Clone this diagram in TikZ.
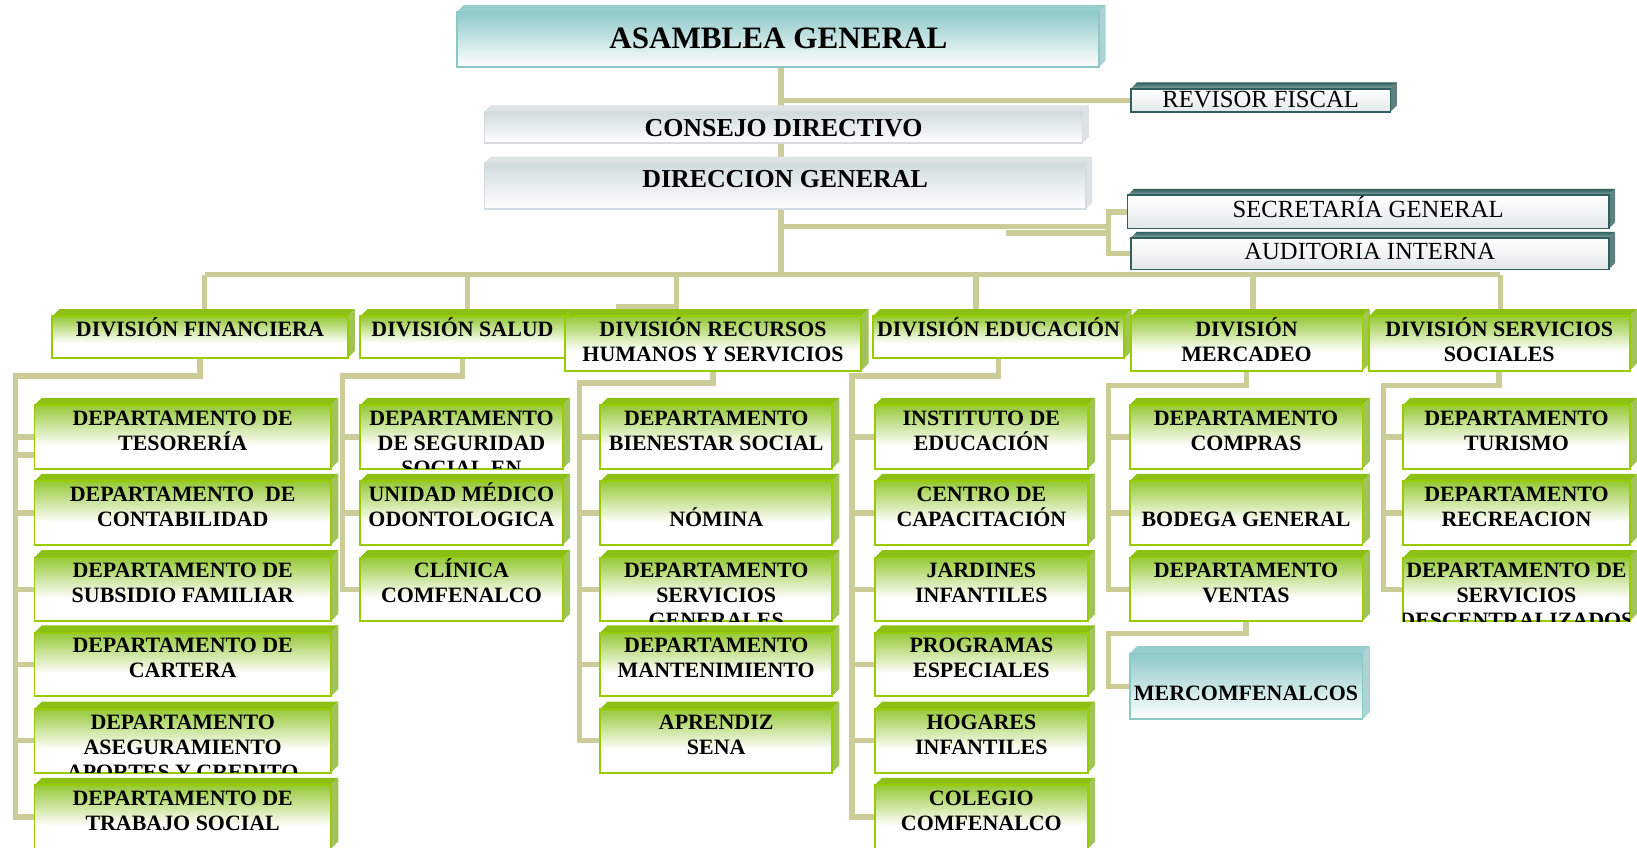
\documentclass[tikz,border=0pt]{standalone}
\usepackage{fontspec}
\setmainfont{Liberation Serif}
\usetikzlibrary{fit}

\pgfdeclarelayer{paper}
\pgfdeclarelayer{links}
\pgfsetlayers{paper,links,main}

% palette
\definecolor{linkc}{RGB}{204,204,153}
\definecolor{grnedge}{RGB}{153,204,0}
\definecolor{grntop}{RGB}{140,192,20}
\definecolor{grnside}{RGB}{160,196,90}
\definecolor{grnfade}{RGB}{150,201,55}
\definecolor{tealfade}{RGB}{143,201,201}
\definecolor{tealedge}{RGB}{140,200,200}
\definecolor{tealtop}{RGB}{150,205,205}
\definecolor{tealside}{RGB}{172,212,212}
\definecolor{grayfade}{RGB}{208,219,223}
\definecolor{grayedge}{RGB}{212,220,224}
\definecolor{grayside}{RGB}{222,228,230}
\definecolor{darkedge}{RGB}{47,95,95}
\definecolor{darktop}{RGB}{45,95,95}
\definecolor{darkside}{RGB}{95,128,128}
\definecolor{darklow}{RGB}{226,232,232}

% green front: strong green at the top, white from the middle down
\pgfdeclareverticalshading{grnshade}{100bp}{color(0bp)=(white); color(25bp)=(white); color(43bp)=(white); color(75bp)=(grnfade); color(100bp)=(grnfade)}

% fonts
\newcommand\fdept{\fontsize{10.5pt}{12pt}\selectfont\bfseries}
\newcommand\fbig{\fontsize{14.9pt}{17pt}\selectfont\bfseries}
\newcommand\fmid{\fontsize{12.4pt}{14pt}\selectfont\bfseries}
\newcommand\fplain{\fontsize{11.8pt}{14pt}\selectfont}

\def\dep{7}
\def\toff{9.5pt}

% 3D block: #1 name, #2 left, #3 top, #4 right, #5 bottom (front face),
% #6 palette, #7 font, #8 text
\newcommand{\orgbox}[8]{%
  \node[fit={(#2,#3) (#4,#5)}, inner sep=0pt, outer sep=0pt] (#1) {};
  \path[#6-top] (#1.north west) -- ++(\dep,-\dep)
     -- ([shift={(\dep,-\dep)}]#1.north east) -- (#1.north east) -- cycle;
  \path[#6-side] (#1.north east) -- ([shift={(\dep,-\dep)}]#1.north east)
     -- ([shift={(\dep,-\dep)}]#1.south east) -- (#1.south east) -- cycle;
  \path[#6-front] (#1.north west) rectangle (#1.south east);
  \draw[#6-edge] (#1.north west) rectangle (#1.south east);
  \begin{scope}
    \clip (#1.north west) rectangle (#1.south east);
    \node[anchor=north, inner sep=0pt, align=center, font=#7] (#1-txt)
      at (#1.north) {\rule{0pt}{\toff}#8};
  \end{scope}}

\tikzset{
  link/.style={draw=linkc, line width=2.6pt, line join=miter},
  grn-top/.style={fill=grntop},
  grn-side/.style={fill=grnside},
  grn-front/.style={shading=grnshade},
  grn-edge/.style={draw=grnedge, line width=0.9pt},
  tea-top/.style={fill=tealtop},
  tea-side/.style={fill=tealside},
  tea-front/.style={top color=tealfade, bottom color=white},
  tea-edge/.style={draw=tealedge, line width=0.9pt},
  gry-top/.style={fill=grayside},
  gry-side/.style={fill=grayside},
  gry-front/.style={top color=grayfade, bottom color=white},
  gry-edge/.style={draw=grayedge, line width=0.8pt},
  drk-top/.style={top color=darktop, bottom color=darktop!55!white},
  drk-side/.style={fill=darkside},
  drk-front/.style={top color=white, bottom color=darklow},
  drk-edge/.style={draw=darkedge, line width=0.8pt},
}

\begin{document}
\begin{tikzpicture}[x=0.5pt,y=-0.5pt]
\useasboundingbox (0,0) rectangle (1568,812);
\begin{pgfonlayer}{paper}
  \fill[white] (0,0) rectangle (1568,812);
\end{pgfonlayer}

% ---------- governing bodies ----------
\def\dep{6}
\def\toff{17.5pt}
\orgbox{asam}{438}{11}{1053}{64}{tea}{\fbig}{ASAMBLEA GENERAL}
\def\toff{9pt}
\orgbox{revisor}{1083}{85}{1332}{107}{drk}{\fplain}{REVISOR FISCAL}
\def\toff{11.5pt}
\orgbox{consejo}{464}{107}{1037}{137}{gry}{\fmid}{CONSEJO DIRECTIVO}
\orgbox{direccion}{464}{156}{1040}{200}{gry}{\fmid}{DIRECCION GENERAL}
\def\toff{10.5pt}
\orgbox{secretaria}{1080}{187}{1541}{219}{drk}{\fplain}{SECRETARÍA GENERAL}
\def\toff{10pt}
\orgbox{auditoria}{1083}{228}{1541}{258}{drk}{\fplain}{AUDITORIA INTERNA}

% ---------- divisions ----------
\def\dep{7}
\def\toff{9.5pt}
\orgbox{fin}{50}{303}{333}{343}{grn}{\fdept}{DIVISIÓN FINANCIERA}
\orgbox{sal}{345}{303}{541}{343}{grn}{\fdept}{DIVISIÓN SALUD}
\orgbox{rrh}{541}{303}{825}{355}{grn}{\fdept}{DIVISIÓN RECURSOS\\HUMANOS Y SERVICIOS}
\orgbox{edu}{836}{303}{1077}{343}{grn}{\fdept}{DIVISIÓN EDUCACIÓN}
\orgbox{mer}{1083}{303}{1305}{355}{grn}{\fdept}{DIVISIÓN\\MERCADEO}
\orgbox{ser}{1311}{303}{1561}{355}{grn}{\fdept}{DIVISIÓN SERVICIOS\\SOCIALES}

% ---------- departments ----------
% financiera
\orgbox{f1}{33}{388}{317}{449}{grn}{\fdept}{DEPARTAMENTO DE\\TESORERÍA}
\orgbox{f2}{33}{461}{317}{522}{grn}{\fdept}{DEPARTAMENTO~ DE\\CONTABILIDAD}
\orgbox{f3}{33}{534}{317}{595}{grn}{\fdept}{DEPARTAMENTO DE\\SUBSIDIO FAMILIAR}
\orgbox{f4}{33}{606}{317}{667}{grn}{\fdept}{DEPARTAMENTO DE\\CARTERA}
\orgbox{f5}{33}{679}{317}{740}{grn}{\fdept}{DEPARTAMENTO\\ASEGURAMIENTO\\APORTES Y CREDITO}
\orgbox{f6}{33}{752}{317}{813}{grn}{\fdept}{DEPARTAMENTO DE\\TRABAJO SOCIAL}
% salud
\orgbox{s1}{345}{388}{539}{449}{grn}{\fdept}{DEPARTAMENTO\\DE SEGURIDAD\\SOCIAL EN}
\orgbox{s2}{345}{461}{539}{522}{grn}{\fdept}{UNIDAD MÉDICO\\ODONTOLOGICA}
\orgbox{s3}{345}{534}{539}{595}{grn}{\fdept}{CLÍNICA\\COMFENALCO}
% recursos humanos
\orgbox{r1}{575}{388}{797}{449}{grn}{\fdept}{DEPARTAMENTO\\BIENESTAR SOCIAL}
\orgbox{r2}{575}{461}{797}{522}{grn}{\fdept}{\\NÓMINA}
\orgbox{r3}{575}{534}{797}{595}{grn}{\fdept}{DEPARTAMENTO\\SERVICIOS\\GENERALES}
\orgbox{r4}{575}{606}{797}{667}{grn}{\fdept}{DEPARTAMENTO\\MANTENIMIENTO}
\orgbox{r5}{575}{679}{797}{740}{grn}{\fdept}{APRENDIZ\\SENA}
% educacion
\orgbox{e1}{838}{388}{1042}{449}{grn}{\fdept}{INSTITUTO DE\\EDUCACIÓN}
\orgbox{e2}{838}{461}{1042}{522}{grn}{\fdept}{CENTRO DE\\CAPACITACIÓN}
\orgbox{e3}{838}{534}{1042}{595}{grn}{\fdept}{JARDINES\\INFANTILES}
\orgbox{e4}{838}{606}{1042}{667}{grn}{\fdept}{PROGRAMAS\\ESPECIALES}
\orgbox{e5}{838}{679}{1042}{740}{grn}{\fdept}{HOGARES\\INFANTILES}
\orgbox{e6}{838}{752}{1042}{813}{grn}{\fdept}{COLEGIO\\COMFENALCO}
% mercadeo
\orgbox{m1}{1082}{388}{1305}{449}{grn}{\fdept}{DEPARTAMENTO\\COMPRAS}
\orgbox{m2}{1082}{461}{1305}{522}{grn}{\fdept}{\\BODEGA GENERAL}
\orgbox{m3}{1082}{534}{1305}{595}{grn}{\fdept}{DEPARTAMENTO\\VENTAS}
\def\toff{22.5pt}
\orgbox{mcf}{1082}{626}{1305}{689}{tea}{\fdept}{MERCOMFENALCOS}
\def\toff{9.5pt}
% servicios sociales
\orgbox{v1}{1344}{388}{1561}{449}{grn}{\fdept}{DEPARTAMENTO\\TURISMO}
\orgbox{v2}{1344}{461}{1561}{522}{grn}{\fdept}{DEPARTAMENTO\\RECREACION}
\orgbox{v3}{1344}{534}{1561}{595}{grn}{\fdept}{DEPARTAMENTO DE\\SERVICIOS\\DESCENTRALIZADOS}

% ---------- connectors ----------
\begin{pgfonlayer}{links}
  \coordinate (tk) at (748,0);
  \coordinate (busy) at (0,263);
  \draw[link] (asam.south -| tk) -- (consejo.north -| tk);
  \draw[link] (tk |- revisor.west) -- (revisor.west);
  \draw[link] (consejo.south -| tk) -- (direccion.north -| tk);
  \draw[link] (direccion.south -| tk) -- (tk |- busy);
  % staff offices
  \coordinate (sab) at (1062,217);
  \coordinate (sab2) at (964,223);
  \draw[link] (tk |- sab) -- (sab);
  \draw[link] (sab2) -- (sab2 -| sab);
  \draw[link] (secretaria.west) -| (sab) |- (auditoria.west);
  % division bus
  \coordinate (dF) at (196,263);
  \coordinate (dS) at (448,263);
  \coordinate (dR) at (648,263);
  \coordinate (dE) at (935,263);
  \coordinate (dM) at (1200,263);
  \coordinate (dV) at (1437,263);
  \coordinate (rst) at (590,294);
  \draw[link] (dF) -- (dV);
  \draw[link] (dF) -- (dF |- fin.north);
  \draw[link] (dS) -- (dS |- sal.north);
  \draw[link] (dR) |- (rst);
  \draw[link] (dE) -- (dE |- edu.north);
  \draw[link] (dM) -- (dM |- mer.north);
  \draw[link] (dV) -- (dV |- ser.north);
  % financiera
  \coordinate (fL) at (15,360);
  \coordinate (fx) at (33,436);
  \draw[link] (fin.south) |- (fL) |- (f6.west);
  \foreach \b in {f1,f2,f3,f4,f5} \draw[link] (\b.west) -- (\b.west -| fL);
  \draw[link] (fx) -- (fx -| fL);
  % salud
  \coordinate (sL) at (328,360);
  \draw[link] (sal.south) |- (sL) |- (s3.west);
  \foreach \b in {s1,s2} \draw[link] (\b.west) -- (\b.west -| sL);
  % recursos humanos
  \coordinate (rL) at (555,367);
  \draw[link] (rrh.south) |- (rL) |- (r5.west);
  \foreach \b in {r1,r2,r3,r4} \draw[link] (\b.west) -- (\b.west -| rL);
  % educacion
  \coordinate (eL) at (816,360);
  \draw[link] (edu.south) |- (eL) |- (e6.west);
  \foreach \b in {e1,e2,e3,e4,e5} \draw[link] (\b.west) -- (\b.west -| eL);
  % mercadeo
  \coordinate (mL) at (1062,369);
  \draw[link] (mer.south) |- (mL) |- (m3.west);
  \foreach \b in {m1,m2} \draw[link] (\b.west) -- (\b.west -| mL);
  \coordinate (mcL) at (1062,607);
  \draw[link] (m3.south) |- (mcL) |- (mcf.west);
  % servicios sociales
  \coordinate (vL) at (1325,369);
  \draw[link] (ser.south) |- (vL) |- (v3.west);
  \foreach \b in {v1,v2} \draw[link] (\b.west) -- (\b.west -| vL);
\end{pgfonlayer}
\end{tikzpicture}
\end{document}
